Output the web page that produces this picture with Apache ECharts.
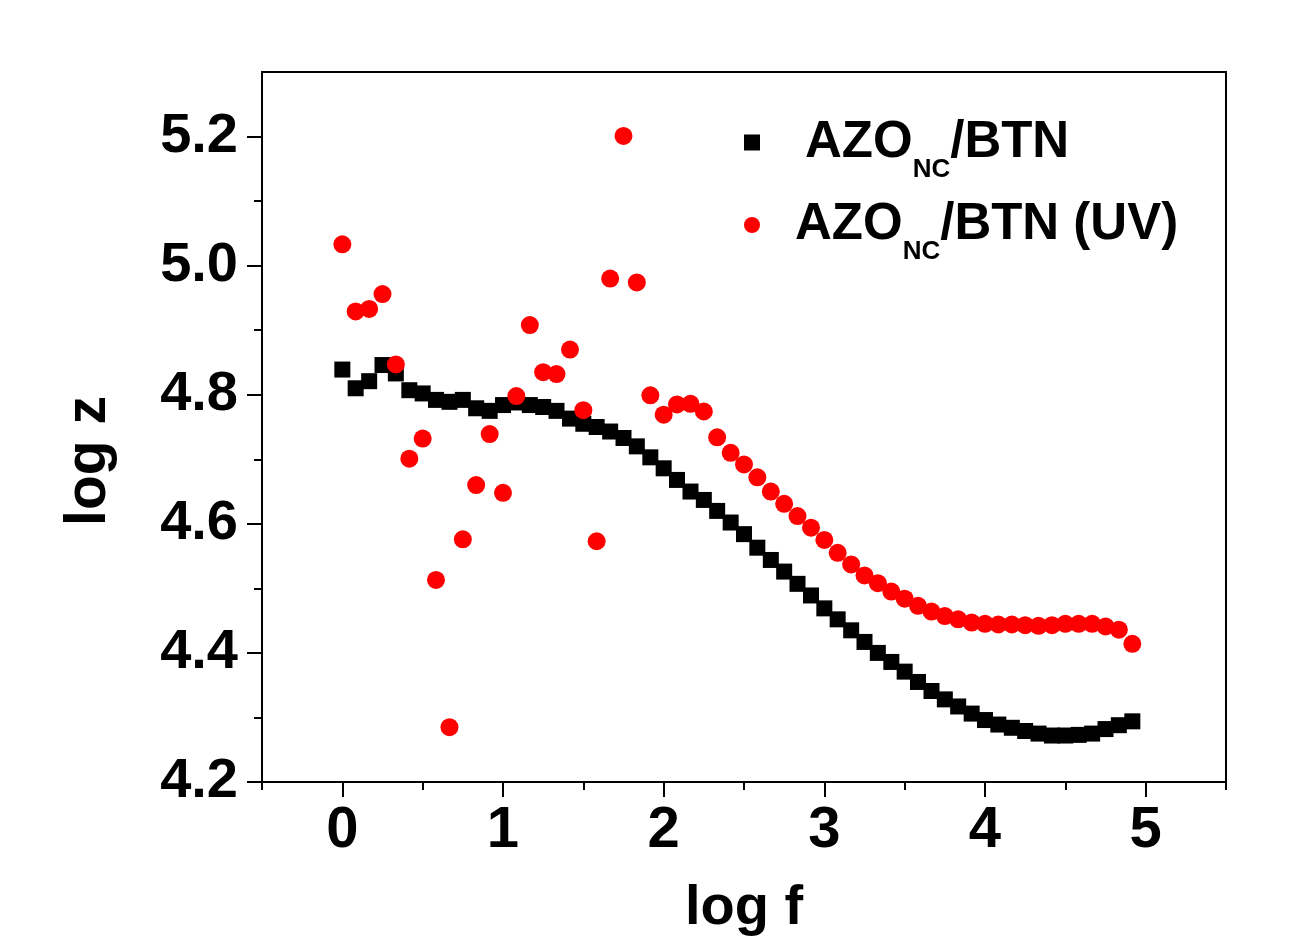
<!DOCTYPE html>
<html>
<head>
<meta charset="utf-8">
<script src="https://cdn.jsdelivr.net/npm/echarts@6/dist/echarts.min.js"></script>
<style>
  html, body { margin: 0; padding: 0; background: #ffffff; }
  #chart { width: 1306px; height: 942px; }
</style>
</head>
<body>
<div id="chart"></div>
<script>
// ---- data ----
const logF = [0, 0.083, 0.167, 0.25, 0.333, 0.417, 0.5, 0.583, 0.667, 0.75,
  0.833, 0.917, 1, 1.083, 1.167, 1.25, 1.333, 1.417, 1.5, 1.583,
  1.667, 1.75, 1.833, 1.917, 2, 2.083, 2.167, 2.25, 2.333, 2.417,
  2.5, 2.583, 2.667, 2.75, 2.833, 2.917, 3, 3.083, 3.167, 3.25,
  3.333, 3.417, 3.5, 3.583, 3.667, 3.75, 3.833, 3.917, 4, 4.083,
  4.167, 4.25, 4.333, 4.417, 4.5, 4.583, 4.667, 4.75, 4.833, 4.917];

const logZ_BTN = [4.839, 4.810, 4.821, 4.846, 4.833, 4.807, 4.802, 4.792, 4.789, 4.792,
  4.779, 4.775, 4.784, 4.788, 4.784, 4.781, 4.775, 4.763, 4.755, 4.750,
  4.743, 4.733, 4.720, 4.703, 4.686, 4.668, 4.650, 4.637, 4.620, 4.602,
  4.584, 4.563, 4.544, 4.526, 4.507, 4.489, 4.469, 4.452, 4.435, 4.417,
  4.400, 4.386, 4.371, 4.355, 4.341, 4.328, 4.317, 4.306, 4.296, 4.289,
  4.284, 4.279, 4.275, 4.272, 4.272, 4.273, 4.275, 4.282, 4.288, 4.294];

const logZ_BTN_UV = [5.033, 4.929, 4.933, 4.956, 4.847, 4.701, 4.732, 4.513, 4.285, 4.576,
  4.660, 4.739, 4.648, 4.798, 4.908, 4.835, 4.832, 4.870, 4.776, 4.573,
  4.980, 5.201, 4.974, 4.799, 4.769, 4.785, 4.786, 4.774, 4.734, 4.710,
  4.692, 4.672, 4.650, 4.631, 4.612, 4.594, 4.575, 4.555, 4.537, 4.520,
  4.508, 4.495, 4.484, 4.473, 4.464, 4.457, 4.452, 4.447, 4.445, 4.444,
  4.444, 4.443, 4.442, 4.443, 4.445, 4.445, 4.445, 4.441, 4.436, 4.414];

const seriesNames = ['AZO_NC/BTN', 'AZO_NC/BTN (UV)'];
const xMajorTicks = [0, 1, 2, 3, 4, 5];
const xMinorTicks = [-0.5, 0.5, 1.5, 2.5, 3.5, 4.5, 5.5];
const yMajorTicks = [4.2, 4.4, 4.6, 4.8, 5.0, 5.2];
const yMinorTicks = [4.3, 4.5, 4.7, 4.9, 5.1];

// ---- chart ----
const pairs = (xs, ys) => xs.map((x, i) => [x, ys[i]]);
const chart = echarts.init(document.getElementById('chart'), null, { renderer: 'canvas' });
const sans = "'Liberation Sans', Arial, sans-serif";

chart.setOption({
  backgroundColor: '#ffffff',
  animation: false,
  grid: { left: 262, top: 72, right: 80, bottom: 158, show: true, borderColor: '#000', borderWidth: 2 },
  xAxis: [{
    type: 'value', min: -0.5, max: 5.5,
    axisLine: { show: true, onZero: false, lineStyle: { color: '#000', width: 2 } },
    axisTick: { show: true, customValues: xMajorTicks, length: 15, lineStyle: { color: '#000', width: 2 } },
    axisLabel: { customValues: xMajorTicks, color: '#000', fontFamily: sans, fontWeight: 'bold', fontSize: 58, margin: 20,
      formatter: v => String(Math.round(v)) },
    splitLine: { show: false },
    name: 'log f', nameLocation: 'middle', nameGap: 99,
    nameTextStyle: { color: '#000', fontFamily: sans, fontWeight: 'bold', fontSize: 56 }
  }, {
    type: 'value', min: -0.5, max: 5.5, position: 'bottom',
    axisLine: { show: false, onZero: false },
    axisTick: { show: true, customValues: xMinorTicks, length: 8, lineStyle: { color: '#000', width: 2 } },
    axisLabel: { show: false },
    splitLine: { show: false }
  }],
  yAxis: [{
    type: 'value', min: 4.2, max: 5.3,
    axisLine: { show: true, onZero: false, lineStyle: { color: '#000', width: 2 } },
    axisTick: { show: true, customValues: yMajorTicks, length: 15, lineStyle: { color: '#000', width: 2 } },
    axisLabel: { customValues: yMajorTicks, color: '#000', fontFamily: sans, fontWeight: 'bold', fontSize: 56, margin: 24,
      formatter: v => v.toFixed(1) },
    splitLine: { show: false },
    name: 'log z', nameLocation: 'middle', nameGap: 144, nameRotate: 90,
    nameTextStyle: { color: '#000', fontFamily: sans, fontWeight: 'bold', fontSize: 57, padding: [0, 68, 0, 0] }
  }, {
    type: 'value', min: 4.2, max: 5.3, position: 'left',
    axisLine: { show: false, onZero: false },
    axisTick: { show: true, customValues: yMinorTicks, length: 8, lineStyle: { color: '#000', width: 2 } },
    axisLabel: { show: false },
    splitLine: { show: false }
  }],
  legend: {
    orient: 'vertical', left: 744, top: 117, padding: 0, itemGap: 17,
    itemWidth: 16, itemHeight: 16,
    data: [
      { name: seriesNames[0], icon: 'rect' },
      { name: seriesNames[1], icon: 'circle' }
    ],
    formatter: name => name === seriesNames[0]
      ? '{p1|AZO}{s|NC}{b|/BTN}'
      : '{p2|AZO}{s|NC}{b|/BTN (UV)}',
    textStyle: {
      color: '#000',
      rich: {
        p1: { fontFamily: sans, fontWeight: 'bold', fontSize: 51, color: '#000', padding: [0, 0, 0, 40] },
        p2: { fontFamily: sans, fontWeight: 'bold', fontSize: 51, color: '#000', padding: [0, 0, 0, 30] },
        b: { fontFamily: sans, fontWeight: 'bold', fontSize: 51, color: '#000' },
        s: { fontFamily: sans, fontWeight: 'bold', fontSize: 26, color: '#000', padding: [54, 0, 0, 0] }
      }
    }
  },
  series: [{
    name: seriesNames[0], type: 'scatter', xAxisIndex: 0, yAxisIndex: 0,
    symbol: 'rect', symbolSize: 16,
    itemStyle: { color: '#000000', opacity: 1 },
    data: pairs(logF, logZ_BTN)
  }, {
    name: seriesNames[1], type: 'scatter', xAxisIndex: 0, yAxisIndex: 0,
    symbol: 'circle', symbolSize: 18,
    itemStyle: { color: '#ff0000', opacity: 1 },
    data: pairs(logF, logZ_BTN_UV)
  }]
});
</script>
</body>
</html>
